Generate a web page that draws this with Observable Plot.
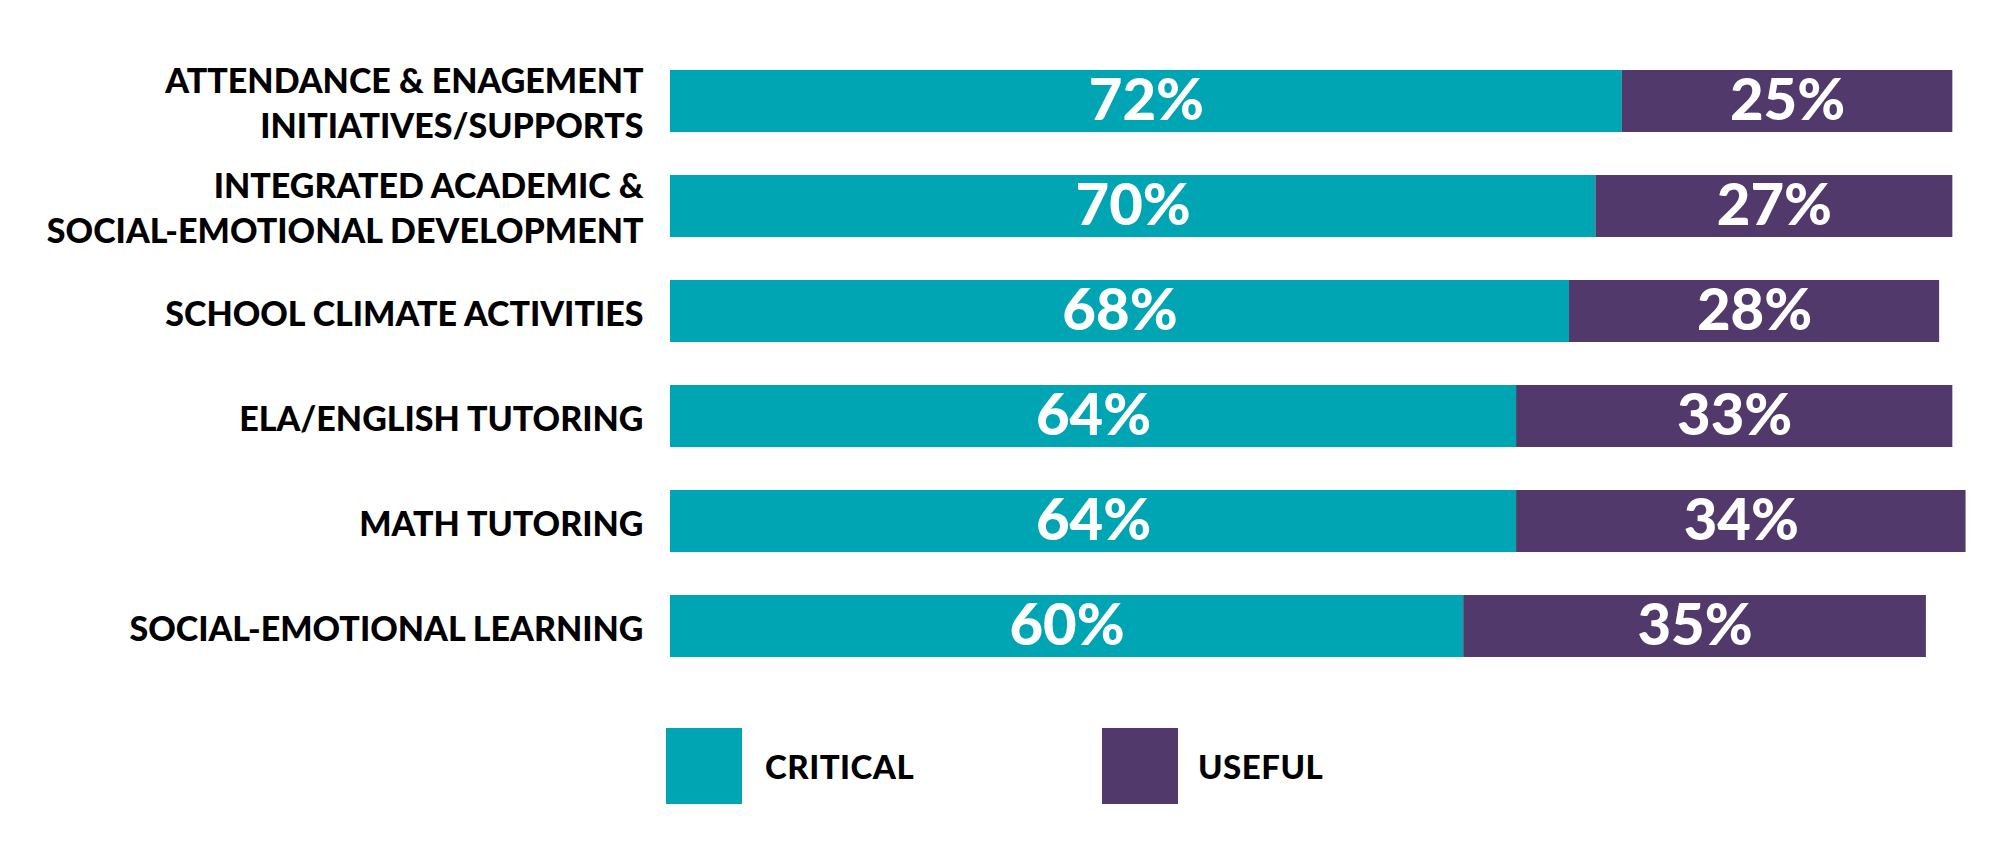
<!DOCTYPE html>
<html>
<head>
<meta charset="utf-8">
<script src="https://cdn.jsdelivr.net/npm/d3@7"></script>
<script src="https://cdn.jsdelivr.net/npm/@observablehq/plot@0.6"></script>
<style>
  html, body { margin: 0; padding: 0; background: #fff; }
  #wrap { position: relative; width: 2000px; height: 857px; font-family: Lato, "Open Sans", sans-serif; }
  #legend { position: absolute; left: 0; top: 728px; width: 2000px; height: 76px; }
  .sw { position: absolute; top: 0; width: 76px; height: 76px; }
  .lt { position: absolute; top: 0; height: 76px; line-height: 76px; font-size: 33px; font-weight: 900; color: #000; letter-spacing: 0.5px; }
</style>
</head>
<body>
<div id="wrap"><div id="chart"></div><div id="legend"></div></div>
<script>
const categories = [
  "ATTENDANCE & ENAGEMENT\nINITIATIVES/SUPPORTS",
  "INTEGRATED ACADEMIC &\nSOCIAL-EMOTIONAL DEVELOPMENT",
  "SCHOOL CLIMATE ACTIVITIES",
  "ELA/ENGLISH TUTORING",
  "MATH TUTORING",
  "SOCIAL-EMOTIONAL LEARNING"
];
const series = ["CRITICAL", "USEFUL"];
const criticalValues = [72, 70, 68, 64, 64, 60];
const usefulValues = [25, 27, 28, 33, 34, 35];
const colors = ["#00a5b4", "#513a6b"];

const data = [];
categories.forEach((c, i) => {
  data.push({category: c, series: series[0], value: criticalValues[i]});
  data.push({category: c, series: series[1], value: usefulValues[i]});
});

const chart = Plot.plot({
  width: 2000,
  height: 701,
  marginLeft: 670,
  marginRight: 8,
  marginTop: 26,
  marginBottom: 0,
  style: {fontFamily: "Lato, 'Open Sans', sans-serif", background: "#fff"},
  x: {domain: [0, 100], axis: null},
  y: {domain: categories, axis: null, paddingInner: 0.41, paddingOuter: 0.41},
  color: {domain: series, range: colors},
  marks: [
    Plot.barX(data, Plot.stackX({x: "value", y: "category", fill: "series", order: series})),
    Plot.text(data, Plot.stackX({
      x: "value", y: "category", z: "series", order: series,
      text: d => d.value + "%",
      fill: "#fff", fontSize: 58, fontWeight: 900
    })),
    Plot.text(categories, {
      y: d => d, text: d => d, frameAnchor: "left", textAnchor: "end", dx: -27,
      fontSize: 34, fontWeight: 900, fill: "#000", lineHeight: 1.32
    })
  ]
});
document.getElementById("chart").appendChild(chart);

const legend = document.getElementById("legend");
const swLeft = [666, 1102];
const txLeft = [765, 1198];
series.forEach((s, i) => {
  const sw = document.createElement("div");
  sw.className = "sw";
  sw.style.left = swLeft[i] + "px";
  sw.style.background = colors[i];
  legend.appendChild(sw);
  const t = document.createElement("div");
  t.className = "lt";
  t.style.left = txLeft[i] + "px";
  t.textContent = s;
  legend.appendChild(t);
});
</script>
</body>
</html>
